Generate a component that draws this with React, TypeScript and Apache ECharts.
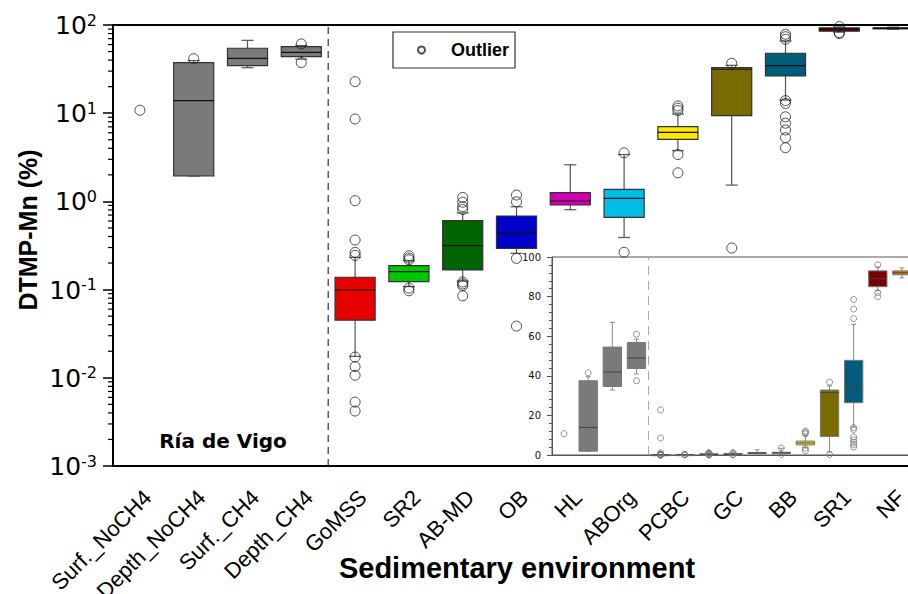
import React, { useEffect, useRef } from 'react';
import * as echarts from 'echarts';

const categories = ['Surf._NoCH4', 'Depth_NoCH4', 'Surf._CH4', 'Depth_CH4', 'GoMSS', 'SR2', 'AB-MD', 'OB', 'HL', 'ABOrg', 'PCBC', 'GC', 'BB', 'SR1', 'NF'];

// Box statistics (null = no box drawn)
const whiskerLow = [null, 1.94, 32.8, 41, 0.0175, 0.108, 0.125, 0.258, 0.805, 0.39, 3.76, 1.53, 14.1, 83, 89.5];
const quartile1 = [null, 1.94, 34.6, 43.7, 0.045, 0.123, 0.167, 0.294, 0.91, 0.66, 5.06, 9.4, 26.4, 85, 91];
const medians = [null, 13.9, 41.9, 49, 0.099, 0.16, 0.315, 0.44, 1.01, 1.08, 6.07, 31.5, 34.6, 89, 92];
const quartile3 = [null, 37.5, 54.5, 56.8, 0.138, 0.187, 0.604, 0.683, 1.26, 1.37, 7.03, 32.8, 47.8, 93, 93];
const whiskerHigh = [null, 39.5, 67, 58.5, 0.232, 0.212, 0.74, 0.87, 2.6, 3.4, 9.8, 34.9, 66, 95, 94.5];

const outliers: number[][] = [
  [10.8],
  [41.5],
  [],
  [61, 37.5],
  [22.8, 8.6, 1.02, 0.365, 0.264, 0.244, 0.0172, 0.0134, 0.0107, 0.0053, 0.0042],
  [0.242, 0.228, 0.218, 0.104, 0.097],
  [1.11, 0.98, 0.87, 0.81, 0.122, 0.116, 0.111, 0.085],
  [1.18, 0.99, 0.226, 0.0386],
  [],
  [3.55, 0.265],
  [12.1, 11.4, 10.7, 3.4, 2.11],
  [36.8, 0.296],
  [78.5, 73.7, 68.9, 13.9, 12.9, 9.1, 7.7, 6.45, 5.28, 4.06],
  [96, 82, 80],
  [],
];

const boxFill = ['#7a7a7a', '#7a7a7a', '#7a7a7a', '#7a7a7a', '#e60000', '#00c800', '#006400', '#0000c8', '#d000b0', '#00bde8', '#ffe600', '#786c00', '#005c78', '#780000', '#e07800'];

const logDecades = [0.001, 0.01, 0.1, 1, 10];
const minorMultipliers = [2, 3, 4, 5, 6, 7, 8, 9];

const ARIAL = "'Liberation Sans', Arial, sans-serif";
const DEJAVU = "'DejaVu Sans', sans-serif";

const boxData = categories
  .map((_, i) => (quartile1[i] == null ? null : [i, whiskerLow[i], quartile1[i], medians[i], quartile3[i], whiskerHigh[i]]))
  .filter((d) => d !== null) as number[][];
const outlierData = outliers.flatMap((arr, i) => arr.map((v) => [i, v]));
const minorTickData = logDecades.flatMap((d) => minorMultipliers.map((m) => [0, m * d]));

function makeBoxRenderer(widthRatio: number, capPx: number, stroke: string, whiskerStroke: string, medianStroke: string, lw: number) {
  return (params: any, api: any) => {
    const i = api.value(0);
    const band = api.size([1, 0], [i, 1])[0];
    const w = band * widthRatio;
    const lo = api.coord([i, api.value(1)]);
    const q1 = api.coord([i, api.value(2)]);
    const md = api.coord([i, api.value(3)]);
    const q3 = api.coord([i, api.value(4)]);
    const hi = api.coord([i, api.value(5)]);
    const x = md[0];
    const ls = { stroke: whiskerStroke, lineWidth: lw };
    return {
      type: 'group',
      children: [
        { type: 'line', shape: { x1: x, y1: q3[1], x2: x, y2: hi[1] }, style: ls },
        { type: 'line', shape: { x1: x, y1: q1[1], x2: x, y2: lo[1] }, style: ls },
        { type: 'line', shape: { x1: x - capPx / 2, y1: hi[1], x2: x + capPx / 2, y2: hi[1] }, style: ls },
        { type: 'line', shape: { x1: x - capPx / 2, y1: lo[1], x2: x + capPx / 2, y2: lo[1] }, style: ls },
        {
          type: 'rect',
          shape: { x: x - w / 2, y: q3[1], width: w, height: Math.max(q1[1] - q3[1], 1) },
          style: { fill: boxFill[i], stroke, lineWidth: lw },
        },
        { type: 'line', shape: { x1: x - w / 2, y1: md[1], x2: x + w / 2, y2: md[1] }, style: { stroke: medianStroke, lineWidth: lw } },
      ],
    };
  };
}

export default function App() {
  const ref = useRef<HTMLDivElement>(null);
  useEffect(() => {
    if (!ref.current) return;
    const chart = echarts.init(ref.current, undefined, { renderer: 'svg' });
    const option: any = {
      animation: false,
      backgroundColor: '#fff',
      legend: {
        data: [{ name: 'Outlier', icon: 'circle' }],
        left: 393,
        top: 32,
        padding: [9, 6, 9, 24],
        itemWidth: 7,
        itemHeight: 7,
        borderColor: '#333',
        borderWidth: 1.2,
        selectedMode: false,
        textStyle: { fontFamily: ARIAL, fontWeight: 'bold', fontSize: 18, color: '#000', padding: [0, 0, 0, 21] },
      },
      grid: [
        { left: 113, right: -12, top: 25, bottom: 128, show: true, borderColor: '#000', borderWidth: 2, backgroundColor: 'transparent', containLabel: false, outerBoundsMode: 'none' },
        { left: 552, right: -6, top: 257, bottom: 139, show: true, borderColor: '#555', borderWidth: 1, backgroundColor: 'transparent', containLabel: false, outerBoundsMode: 'none' },
      ],
      xAxis: [
        {
          type: 'category',
          gridIndex: 0,
          data: categories,
          boundaryGap: true,
          axisLine: { onZero: false, lineStyle: { color: '#000', width: 2 } },
          axisTick: { alignWithLabel: true, length: 10, lineStyle: { color: '#000', width: 1.5 } },
          axisLabel: { rotate: 45, interval: 0, fontSize: 22, fontFamily: ARIAL, color: '#000', margin: 20, verticalAlign: 'top', hideOverlap: false },
          splitLine: { show: false },
        },
        { type: 'value', gridIndex: 0, min: -0.5, max: 14.5, show: false, axisLine: { onZero: false } },
        {
          type: 'category',
          gridIndex: 1,
          data: categories,
          boundaryGap: true,
          axisLine: { onZero: false, lineStyle: { color: '#555', width: 1 } },
          axisTick: { alignWithLabel: true, length: 5, lineStyle: { color: '#555', width: 1 } },
          axisLabel: { show: false },
          splitLine: { show: false },
        },
        { type: 'value', gridIndex: 1, min: -0.5, max: 14.5, show: false, axisLine: { onZero: false } },
      ],
      yAxis: [
        {
          type: 'log',
          logBase: 10,
          gridIndex: 0,
          min: 0.001,
          max: 100,
          axisLine: { show: true, onZero: false, lineStyle: { color: '#000', width: 2 } },
          axisTick: { show: true, length: 10, lineStyle: { color: '#000', width: 1.5 } },
          splitLine: { show: false },
          axisLabel: {
            margin: 16,
            formatter: (v: number) => `{b|10}{s|${Math.round(Math.log10(v))}}`,
            rich: {
              b: { fontSize: 25, fontFamily: DEJAVU, color: '#000', lineHeight: 26, padding: [4, 0, 0, 0], verticalAlign: 'bottom' },
              s: { fontSize: 16, fontFamily: DEJAVU, color: '#000', lineHeight: 16, verticalAlign: 'top' },
            },
          },
        },
        {
          type: 'value',
          gridIndex: 1,
          min: 0,
          max: 100,
          interval: 20,
          axisLine: { show: true, onZero: false, lineStyle: { color: '#555', width: 1 } },
          axisTick: { show: true, length: 5, lineStyle: { color: '#555', width: 1 } },
          minorTick: { show: true, splitNumber: 5, length: 3, lineStyle: { color: '#555', width: 1 } },
          splitLine: { show: false },
          axisLabel: { fontSize: 10, fontFamily: DEJAVU, color: '#111', margin: 11 },
        },
      ],
      series: [
        {
          type: 'custom',
          name: 'minorTicks',
          xAxisIndex: 0,
          yAxisIndex: 0,
          clip: false,
          encode: { x: 0, y: 1 },
          data: minorTickData,
          renderItem: (params: any, api: any) => {
            const y = api.coord([0, api.value(1)])[1];
            const x0 = params.coordSys.x;
            return { type: 'line', shape: { x1: x0 - 5, y1: y, x2: x0, y2: y }, style: { stroke: '#000', lineWidth: 1.2 } };
          },
          silent: true,
        },
        {
          type: 'line',
          name: 'divider',
          xAxisIndex: 1,
          yAxisIndex: 0,
          data: [[3.5, 0.001], [3.5, 100]],
          symbol: 'none',
          lineStyle: { color: '#333', width: 1.2, type: [7, 5] },
          silent: true,
        },
        {
          type: 'custom',
          name: 'boxes',
          xAxisIndex: 0,
          yAxisIndex: 0,
          encode: { x: 0, y: [1, 2, 3, 4, 5] },
          data: boxData,
          renderItem: makeBoxRenderer(0.745, 12, '#333', '#555', '#111', 1.2),
          z: 3,
        },
        {
          type: 'scatter',
          name: 'Outlier',
          xAxisIndex: 0,
          yAxisIndex: 0,
          data: outlierData,
          symbol: 'circle',
          symbolSize: 10,
          itemStyle: { color: 'rgba(255,255,255,0)', borderColor: '#222', borderWidth: 1 },
          z: 5,
        },
        {
          type: 'line',
          name: 'dividerInset',
          xAxisIndex: 3,
          yAxisIndex: 1,
          data: [[3.5, 0], [3.5, 100]],
          symbol: 'none',
          lineStyle: { color: '#aaa', width: 1, type: [9, 6] },
          silent: true,
        },
        {
          type: 'custom',
          name: 'boxesInset',
          xAxisIndex: 2,
          yAxisIndex: 1,
          encode: { x: 0, y: [1, 2, 3, 4, 5] },
          data: boxData,
          renderItem: makeBoxRenderer(0.76, 5, '#777', '#888', '#444', 1),
          z: 3,
        },
        {
          type: 'scatter',
          name: 'OutlierInset',
          xAxisIndex: 2,
          yAxisIndex: 1,
          data: outlierData,
          symbol: 'circle',
          symbolSize: 6,
          itemStyle: { color: 'rgba(255,255,255,0)', borderColor: '#777', borderWidth: 1 },
          z: 5,
        },
      ],
      graphic: [
        {
          type: 'text',
          x: 28,
          y: 230,
          rotation: Math.PI / 2,
          style: { text: 'DTMP-Mn (%)', fontFamily: ARIAL, fontWeight: 'bold', fontSize: 25, fill: '#000', align: 'center', verticalAlign: 'middle' },
        },
        {
          type: 'text',
          x: 223,
          y: 441,
          style: { text: 'Ría de Vigo', fontFamily: DEJAVU, fontWeight: 'bold', fontSize: 20, fill: '#000', align: 'center', verticalAlign: 'middle' },
        },
        {
          type: 'text',
          x: 517,
          y: 568,
          style: { text: 'Sedimentary environment', fontFamily: ARIAL, fontWeight: 'bold', fontSize: 29, fill: '#000', align: 'center', verticalAlign: 'middle' },
        },
      ],
    };
    chart.setOption(option);
    return () => chart.dispose();
  }, []);
  return <div ref={ref} style={{ position: 'fixed', left: 0, top: 0, width: 908, height: 594 }} />;
}
